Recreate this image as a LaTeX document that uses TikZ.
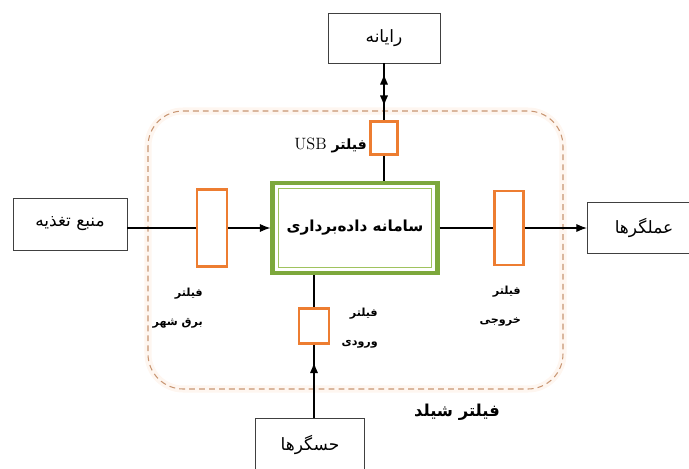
\documentclass[tikz,border=0pt]{standalone}
\usepackage{fontspec}
\newfontfamily\farsi[Script=Arabic]{DejaVu Sans}
\TeXXeTstate=1
\usetikzlibrary{calc, arrows.meta}

\definecolor{filterorange}{RGB}{237,125,49}
\definecolor{boxgreen}{RGB}{125,168,60}
\definecolor{innergreen}{RGB}{160,195,95}
\definecolor{shieldline}{RGB}{200,150,115}

% persischer Text von rechts nach links
\newcommand{\fa}[1]{\beginR #1\endR}

\begin{document}
\begin{tikzpicture}[x=0.03cm, y=-0.03cm, >={Latex[length=9pt, width=7pt]},
    block/.style={draw=black!75, line width=0.8pt, fill=white, inner sep=0pt,
        minimum width=3.36cm, minimum height=1.5cm,
        font=\farsi\fontsize{14.5}{16}\selectfont},
    filterbox/.style={draw=filterorange, line width=2.4pt, fill=white, inner sep=0pt},
    filtertext/.style={align=right, inner sep=0pt,
        font=\farsi\bfseries\fontsize{9.5}{25}\selectfont},
    wire/.style={line width=0.9pt}]

    \useasboundingbox (0,0) rectangle (689,468);

    % Schirmung (gestrichelter Rahmen)
    \draw[line width=6pt, filterorange!7, rounded corners=30pt]
        (148,111) rectangle (563,389);
    \draw[shieldline, line width=0.9pt, dash pattern=on 5pt off 3.5pt, rounded corners=30pt]
        (148,111) rectangle (563,389);

    % Bloecke
    \node[block] (pc) at (384,38) {\fa{رایانه}};
    \node[block, minimum width=3.42cm, minimum height=1.56cm] (power) at (70,224) {\fa{منبع تغذیه}};
    \node[block, minimum width=3.4cm, minimum height=1.53cm] (act) at (644,228) {\fa{عملگرها}};
    \node[block, minimum width=3.27cm, minimum height=1.6cm] (sensor) at (310,445) {\fa{حسگرها}};

    % Datenerfassung (doppelter gruener Rahmen)
    \node[draw=boxgreen, line width=3.6pt, fill=white, minimum width=4.95cm, minimum height=2.7cm,
        font=\farsi\bfseries\fontsize{13}{15}\selectfont] (daq) at (355,228) {\fa{سامانه داده‌برداری}};
    \draw[innergreen, line width=1pt]
        ($(daq.north west)+(8,8)$) rectangle ($(daq.south east)+(-8,-8)$);

    % Filter
    \node[filterbox, minimum width=0.81cm, minimum height=0.99cm] (usbf) at (384,138) {};
    \node[filterbox, minimum width=0.9cm, minimum height=2.31cm] (mainsf) at (212,228) {};
    \node[filterbox, minimum width=0.87cm, minimum height=2.22cm] (outf) at (509,228) {};
    \node[filterbox, minimum width=0.9cm, minimum height=1.05cm] (inf) at (314,326) {};

    % Verbindungen
    \draw[wire] (pc) -- (usbf);
    \draw[wire, <->, shorten <=9pt, shorten >=12pt] (pc) -- (usbf);
    \draw[wire] (usbf) -- (usbf |- daq.north);
    \draw[wire] (power.east |- mainsf) -- (mainsf.west);
    \draw[wire, ->] (mainsf.east) -- (daq.west);
    \draw[wire] (daq.east) -- (outf.west);
    \draw[wire, ->] (outf.east) -- (act.west);
    \draw[wire] (daq.south -| inf) -- (inf.north);
    \draw[wire] (inf |- sensor.north) -- (inf.south);
    \draw[wire, ->, shorten >=15pt] (inf |- sensor.north) -- (inf.south);

    % Beschriftungen
    \node[filtertext, anchor=east, font=\farsi\bfseries\fontsize{12}{15}\selectfont] (usbtext) at (367,145)
        {\fa{فیلتر {\rmfamily\mdseries\fontsize{14}{15}\selectfont\beginL USB\endL}}};
    \node[filtertext, anchor=east] (mainstext) at (203,308) {\fa{فیلتر}\\\fa{برق شهر}};
    \node[filtertext, anchor=east] (outtext) at (521,306) {\fa{فیلتر}\\\fa{خروجی}};
    \node[filtertext, anchor=east] (intext) at (378,328) {\fa{فیلتر}\\\fa{ورودی}};
    \node[filtertext, font=\farsi\bfseries\fontsize{14}{16}\selectfont] (shieldtext) at (457,412) {\fa{فیلتر شیلد}};

\end{tikzpicture}
\end{document}
